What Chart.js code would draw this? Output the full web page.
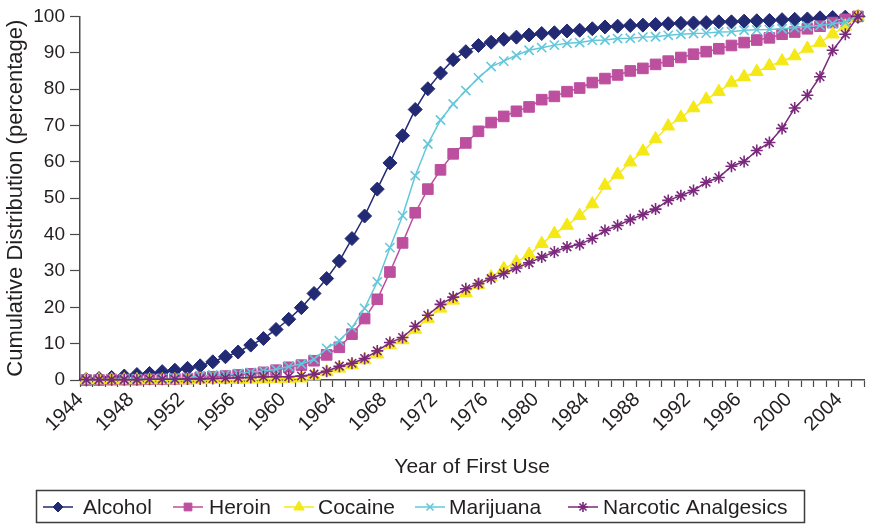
<!DOCTYPE html>
<html>
<head>
<meta charset="utf-8">
<script src="https://cdn.jsdelivr.net/npm/chart.js@4.4.1/dist/chart.umd.min.js"></script>
<style>
  html, body { margin: 0; padding: 0; background: #ffffff; }
  canvas { display: block; }
</style>
</head>
<body>
<canvas id="chart" width="876" height="525"></canvas>
<script>
// Year of first use (categories)
const years = [
  '1944','1945','1946','1947','1948','1949','1950','1951','1952','1953',
  '1954','1955','1956','1957','1958','1959','1960','1961','1962','1963',
  '1964','1965','1966','1967','1968','1969','1970','1971','1972','1973',
  '1974','1975','1976','1977','1978','1979','1980','1981','1982','1983',
  '1984','1985','1986','1987','1988','1989','1990','1991','1992','1993',
  '1994','1995','1996','1997','1998','1999','2000','2001','2002','2003',
  '2004','2005'
];

// Cumulative distribution (percentage) per substance
const alcohol = [
  0.2, 0.4, 0.7, 1.1, 1.5, 1.8, 2.3, 2.7, 3.2, 3.9,
  5.0, 6.4, 7.7, 9.6, 11.4, 13.9, 16.7, 19.9, 23.8, 27.9,
  32.7, 38.9, 45.1, 52.5, 59.7, 67.2, 74.4, 80.1, 84.4, 88.1,
  90.3, 92.0, 92.9, 93.7, 94.3, 94.9, 95.3, 95.5, 96.0, 96.2,
  96.6, 97.1, 97.3, 97.5, 97.6, 97.8, 98.0, 98.1, 98.2, 98.3,
  98.5, 98.5, 98.7, 98.8, 98.9, 99.1, 99.2, 99.3, 99.6, 99.7,
  99.8, 100
];
const heroin = [
  0.0, 0.0, 0.1, 0.1, 0.1, 0.2, 0.2, 0.3, 0.4, 0.7,
  0.9, 1.1, 1.4, 1.7, 2.1, 2.7, 3.5, 4.1, 5.3, 6.9,
  9.0, 12.6, 16.9, 22.2, 29.7, 37.7, 46.0, 52.5, 57.8, 62.2,
  65.2, 68.4, 70.8, 72.5, 73.9, 75.1, 77.1, 78.0, 79.3, 80.3,
  81.8, 82.9, 83.9, 85.0, 85.7, 86.8, 87.7, 88.7, 89.6, 90.3,
  91.1, 92.0, 92.8, 93.5, 94.1, 95.1, 95.7, 96.6, 97.3, 98.3,
  99.2, 100
];
const cocaine = [
  0.0, 0.0, 0.0, 0.0, 0.0, 0.0, 0.0, 0.0, 0.0, 0.0,
  0.1, 0.1, 0.1, 0.2, 0.2, 0.3, 0.4, 0.5, 1.2, 2.2,
  3.2, 4.1, 5.5, 7.1, 9.6, 11.0, 13.9, 16.9, 19.7, 21.9,
  23.9, 26.2, 28.3, 30.6, 32.4, 34.5, 37.5, 40.2, 42.5, 45.2,
  48.4, 53.5, 56.5, 59.9, 62.9, 66.3, 69.8, 72.2, 74.8, 77.2,
  79.3, 81.8, 83.4, 84.8, 86.4, 87.7, 89.1, 91.2, 92.8, 95.1,
  97.3, 100
];
const marijuana = [
  0.1, 0.1, 0.2, 0.2, 0.3, 0.3, 0.4, 0.5, 0.7, 1.2,
  1.4, 1.5, 1.8, 2.1, 2.5, 2.9, 3.7, 4.4, 5.7, 8.7,
  10.8, 14.4, 19.7, 27.0, 36.4, 45.2, 56.2, 64.9, 71.5, 75.9,
  79.6, 83.1, 86.2, 87.7, 89.3, 90.7, 91.4, 92.1, 92.6, 92.8,
  93.4, 93.5, 93.9, 94.0, 94.3, 94.4, 94.8, 95.1, 95.3, 95.4,
  95.7, 95.8, 96.2, 96.3, 96.4, 96.6, 96.9, 97.3, 97.5, 98.0,
  98.4, 100
];
const narcoticAnalgesics = [
  0.1, 0.1, 0.1, 0.1, 0.1, 0.2, 0.2, 0.2, 0.3, 0.3,
  0.4, 0.5, 0.6, 0.7, 0.9, 0.9, 0.9, 1.1, 1.6, 2.4,
  3.8, 4.6, 5.9, 8.0, 10.3, 11.7, 14.8, 17.8, 20.8, 22.8,
  25.1, 26.5, 27.9, 29.3, 30.8, 32.2, 33.8, 35.2, 36.6, 37.3,
  38.9, 41.1, 42.5, 44.1, 45.5, 47.0, 49.4, 50.7, 52.1, 54.4,
  55.7, 58.8, 60.1, 63.1, 65.3, 69.2, 74.8, 78.3, 83.4, 90.7,
  95.1, 100
];

// Y axis tick values
const yTicks = [0, 10, 20, 30, 40, 50, 60, 70, 80, 90, 100];

const FONT = "'Liberation Sans', Arial, Helvetica, sans-serif";
const TEXT = '#231f20';
const AXIS = '#4a4a4a';

Chart.defaults.font.family = FONT;
Chart.defaults.color = TEXT;

function series(label, data, color, style, radius, legendRadius, borderW, order) {
  return {
    label, data,
    borderColor: color,
    backgroundColor: color,
    borderWidth: 1.5,
    pointStyle: style,
    pointRadius: radius,
    pointHoverRadius: radius,
    pointBackgroundColor: color,
    pointBorderColor: color,
    pointBorderWidth: borderW,
    legendRadius,
    tension: 0,
    fill: false,
    clip: false,
    order
  };
}

// Boxed legend along the bottom: line sample with marker, then label
const boxLegend = {
  id: 'boxLegend',
  afterDraw(chart) {
    const ctx = chart.ctx;
    const sampleX = [43, 173, 284, 415, 568];
    const textX = [83, 209, 318, 449, 603];
    const y = 507;
    ctx.save();
    ctx.strokeStyle = '#3c3c3c';
    ctx.lineWidth = 1.5;
    ctx.strokeRect(36.5, 490.5, 768, 32);
    chart.data.datasets.forEach((ds, i) => {
      ctx.strokeStyle = ds.borderColor;
      ctx.lineWidth = 1.5;
      ctx.beginPath();
      ctx.moveTo(sampleX[i], y);
      ctx.lineTo(sampleX[i] + 30, y);
      ctx.stroke();
      ctx.fillStyle = ds.pointBackgroundColor;
      ctx.strokeStyle = ds.pointBorderColor;
      ctx.lineWidth = ds.pointBorderWidth;
      Chart.helpers.drawPoint(ctx, {
        pointStyle: ds.pointStyle,
        radius: ds.legendRadius,
        borderWidth: ds.pointBorderWidth,
        rotation: 0
      }, sampleX[i] + 15, y);
      ctx.fillStyle = TEXT;
      ctx.font = '21px ' + FONT;
      ctx.textAlign = 'left';
      ctx.textBaseline = 'middle';
      ctx.fillText(ds.label, textX[i], y + 1);
    });
    ctx.restore();
  }
};

new Chart(document.getElementById('chart'), {
  type: 'line',
  data: {
    labels: years,
    datasets: [
      series('Alcohol', alcohol, '#232a74', 'rectRot', 7, 5, 1, 4),
      series('Heroin', heroin, '#bd4f9f', 'rect', 7.5, 5.5, 1, 3),
      series('Cocaine', cocaine, '#f4e816', 'triangle', 7.5, 6, 1, 2),
      series('Marijuana', marijuana, '#63c7da', 'crossRot', 6.5, 5, 1.6, 1),
      series('Narcotic Analgesics', narcoticAnalgesics, '#7b297c', 'star', 6, 5, 1.6, 0)
    ]
  },
  options: {
    responsive: false,
    animation: false,
    devicePixelRatio: 1,
    layout: { padding: { top: 16, right: 3, bottom: 45, left: 0 } },
    plugins: {
      legend: { display: false },
      tooltip: { enabled: false },
      title: { display: false }
    },
    scales: {
      x: {
        type: 'category',
        offset: true,
        afterFit(scale) { scale.height = 100; },
        grid: {
          offset: true,
          drawOnChartArea: false,
          drawTicks: true,
          tickLength: 7,
          tickColor: AXIS,
          tickWidth: 1.2
        },
        border: { display: true, color: AXIS, width: 1.5 },
        ticks: {
          autoSkip: false,
          minRotation: 45,
          maxRotation: 45,
          padding: 1,
          labelOffset: -6,
          color: TEXT,
          font: { size: 20 },
          callback(value, index) {
            return index % 4 === 0 ? this.getLabelForValue(value) : '';
          }
        },
        title: {
          display: true,
          text: 'Year of First Use',
          color: TEXT,
          font: { size: 21 },
          padding: { top: 0, bottom: 0 }
        }
      },
      y: {
        min: 0,
        max: 100,
        afterFit(scale) { scale.width = 80; },
        afterBuildTicks(scale) { scale.ticks = yTicks.map(v => ({ value: v })); },
        grid: {
          drawOnChartArea: false,
          drawTicks: true,
          tickLength: 10,
          tickColor: AXIS,
          tickWidth: 1.2
        },
        border: { display: true, color: AXIS, width: 1.5 },
        ticks: {
          padding: 5,
          color: TEXT,
          font: { size: 19 }
        },
        title: {
          display: true,
          text: 'Cumulative Distribution (percentage)',
          color: TEXT,
          font: { size: 22 },
          padding: { top: 3, bottom: 0 }
        }
      }
    }
  },
  plugins: [boxLegend]
});
</script>
</body>
</html>
